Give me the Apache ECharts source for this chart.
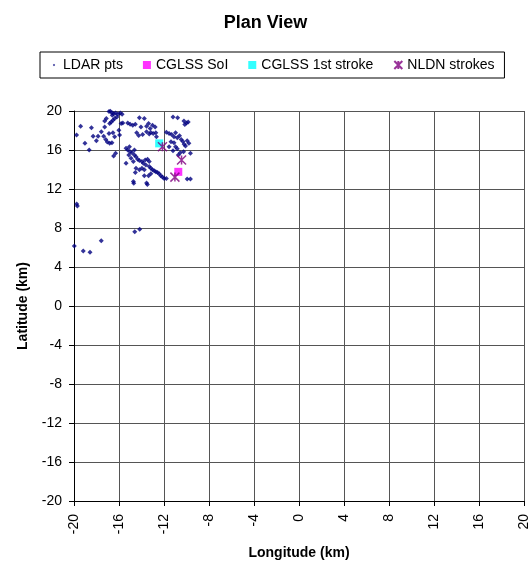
<!DOCTYPE html>
<html>
<head>
<meta charset="utf-8">
<script src="https://cdn.jsdelivr.net/npm/echarts@6/dist/echarts.min.js"></script>
<style>
html,body{margin:0;padding:0;background:#fff;}
#chart{width:531px;height:565px;}
</style>
</head>
<body>
<div id="chart"></div>
<script>
var chartTitle = 'Plan View';
var xAxisName = 'Longitude (km)';
var yAxisName = 'Latitude (km)';
var seriesNames = ['LDAR pts', 'CGLSS SoI', 'CGLSS 1st stroke', 'NLDN strokes'];

var ldarX = [
 -16.89,-16.77,-16.63,-16.48,-16.60,-16.30,-16.10,-15.89,-15.72,-16.19,
 -16.39,-16.54,-16.69,-16.83,-17.13,-17.27,-15.81,-15.66,-19.77,-19.41,
 -19.03,-18.65,-18.45,-18.30,-18.01,-17.86,-17.57,-17.36,-17.18,-17.04,
 -16.83,-16.63,-16.54,-16.39,-16.30,-16.48,-16.01,-15.95,-17.27,-16.89,
 -15.22,-15.01,-14.78,-14.55,-14.19,-13.75,-14.05,-14.43,-14.25,-13.90,
 -15.07,-15.37,-15.22,-15.01,-14.84,-14.63,-14.63,-14.49,-15.13,-14.93,
 -15.37,-14.72,-14.34,-14.19,-13.96,-13.84,-13.67,-13.46,-13.31,-13.61,
 -13.31,-13.17,-13.02,-12.87,-12.73,-12.58,-12.43,-12.29,-12.14,-11.99,
 -11.79,-14.49,-14.19,-13.96,-13.75,-14.55,-14.72,-13.55,-13.37,-13.17,
 -13.75,-13.55,-13.37,-13.23,-13.02,-12.79,-13.55,-13.31,-13.17,-12.96,
 -12.73,-12.67,-11.20,-10.79,-10.23,-10.00,-10.15,-9.85,-11.79,-11.55,
 -11.32,-11.11,-10.97,-10.82,-10.62,-10.47,-10.32,-10.21,-10.09,-9.94,
 -9.79,-11.11,-10.97,-10.82,-11.38,-11.20,-9.65,-10.26,-10.56,-10.73,
 -9.94,-9.65,-11.55,-19.76,-19.70,-19.97,-19.18,-18.58,-17.58,-14.60,
 -14.16,-14.69,-13.48
];
var ldarY = [
 19.95,19.97,19.83,19.73,19.56,19.80,19.66,19.80,19.66,19.39,
 19.22,19.05,18.88,18.71,19.22,18.98,18.71,18.78,17.53,18.44,
 16.68,16.00,18.27,17.42,16.95,17.42,17.86,17.42,17.08,16.81,
 16.68,16.75,17.76,17.36,15.66,15.39,18.03,17.53,18.37,17.69,
 18.78,18.64,18.54,18.64,19.32,19.22,18.37,17.76,17.49,17.59,
 16.34,16.17,16.00,15.83,15.73,16.00,15.49,15.32,15.49,15.15,
 14.64,14.81,15.05,14.92,14.81,14.64,14.98,15.05,14.81,14.47,
 14.31,14.14,13.97,13.86,13.76,13.69,13.56,13.36,13.22,13.08,
 13.08,14.14,13.97,14.14,13.97,13.69,12.78,12.61,13.36,13.56,
 13.36,18.44,18.71,18.20,18.54,18.37,17.86,17.63,17.80,17.69,
 17.76,17.36,19.39,19.32,18.98,18.78,18.61,18.88,17.83,17.69,
 17.59,17.36,17.76,17.25,17.46,17.08,16.88,16.58,16.41,16.95,
 16.68,16.75,16.34,16.14,16.85,15.93,15.66,15.83,15.73,15.49,
 13.02,13.02,16.34,10.45,10.25,6.16,5.65,5.51,6.70,7.62,
 7.86,12.60,12.45
];
var soiX = [-10.73];
var soiY = [13.76];
var firstX = [-12.43];
var firstY = [16.68];
var nldnX = [-12.14, -10.44, -11.03];
var nldnY = [16.34, 14.98, 13.22];
var axisTicks = [-20, -16, -12, -8, -4, 0, 4, 8, 12, 16, 20];

function pairs(xs, ys) {
  var out = [];
  for (var i = 0; i < xs.length; i++) out.push([xs[i], ys[i]]);
  return out;
}

var FONT = '"Liberation Sans", Arial, sans-serif';
var starPath = 'path://M0,0L10,10M10,0L0,10M5,0L5,10';
var smallDot = 'path://M0,0L0.01,0M10,10L9.99,10M3.5,5L5,3.5L6.5,5L5,6.5Z';

var chart = echarts.init(document.getElementById('chart'), null, {renderer: 'canvas'});
chart.setOption({
  animation: false,
  backgroundColor: '#ffffff',
  title: {
    text: chartTitle,
    left: 'center',
    top: 9,
    textStyle: {fontFamily: FONT, fontSize: 18, fontWeight: 'bold', color: '#000'}
  },
  legend: {
    left: 40,
    top: 52,
    padding: [6, 10, 6, 10],
    borderColor: '#000',
    borderWidth: 1,
    itemGap: 20,
    itemWidth: 8,
    itemHeight: 8,
    textStyle: {fontFamily: FONT, fontSize: 14, color: '#000'},
    data: [
      {name: seriesNames[0], icon: smallDot, itemStyle: {color: '#000080'}},
      {name: seriesNames[1], icon: 'rect'},
      {name: seriesNames[2], icon: 'rect'},
      {name: seriesNames[3], icon: starPath}
    ]
  },
  grid: {left: 74, right: 3, top: 111, bottom: 61, containLabel: false},
  xAxis: {
    type: 'value', min: -20, max: 20, interval: 4,
    name: xAxisName, nameLocation: 'middle', nameGap: 45,
    nameTextStyle: {fontFamily: FONT, fontSize: 14, fontWeight: 'bold', color: '#000'},
    axisLine: {show: true, onZero: false, lineStyle: {color: '#000', width: 1}},
    axisTick: {show: true, length: 5, lineStyle: {color: '#000'}},
    axisLabel: {rotate: 90, margin: 13, fontFamily: FONT, fontSize: 14, color: '#000',
      formatter: function (v) { return axisTicks.indexOf(v) >= 0 ? String(v) : ''; }},
    splitLine: {show: true, lineStyle: {color: '#555', width: 1}}
  },
  yAxis: {
    type: 'value', min: -20, max: 20, interval: 4,
    name: yAxisName, nameLocation: 'middle', nameGap: 44,
    nameTextStyle: {fontFamily: FONT, fontSize: 14, fontWeight: 'bold', color: '#000'},
    axisLine: {show: true, onZero: false, lineStyle: {color: '#000', width: 1}},
    axisTick: {show: true, length: 5, lineStyle: {color: '#000'}},
    axisLabel: {margin: 12, fontFamily: FONT, fontSize: 14, color: '#000',
      formatter: function (v) { return axisTicks.indexOf(v) >= 0 ? String(v) : ''; }},
    splitLine: {show: true, lineStyle: {color: '#555', width: 1}}
  },
  series: [
    {
      name: seriesNames[0], type: 'scatter', symbol: 'diamond', symbolSize: 5,
      itemStyle: {color: '#000080'},
      data: pairs(ldarX, ldarY), z: 2
    },
    {
      name: seriesNames[1], type: 'scatter', symbol: 'rect', symbolSize: 8,
      itemStyle: {color: '#ff00ff'},
      data: pairs(soiX, soiY), z: 3
    },
    {
      name: seriesNames[2], type: 'scatter', symbol: 'rect', symbolSize: 8,
      itemStyle: {color: '#00ffff'},
      data: pairs(firstX, firstY), z: 3
    },
    {
      name: seriesNames[3], type: 'scatter', symbol: starPath, symbolSize: 9,
      itemStyle: {color: 'rgba(0,0,0,0)', borderColor: '#800080', borderWidth: 1.5},
      data: pairs(nldnX, nldnY), z: 4
    }
  ]
});
</script>
</body>
</html>
